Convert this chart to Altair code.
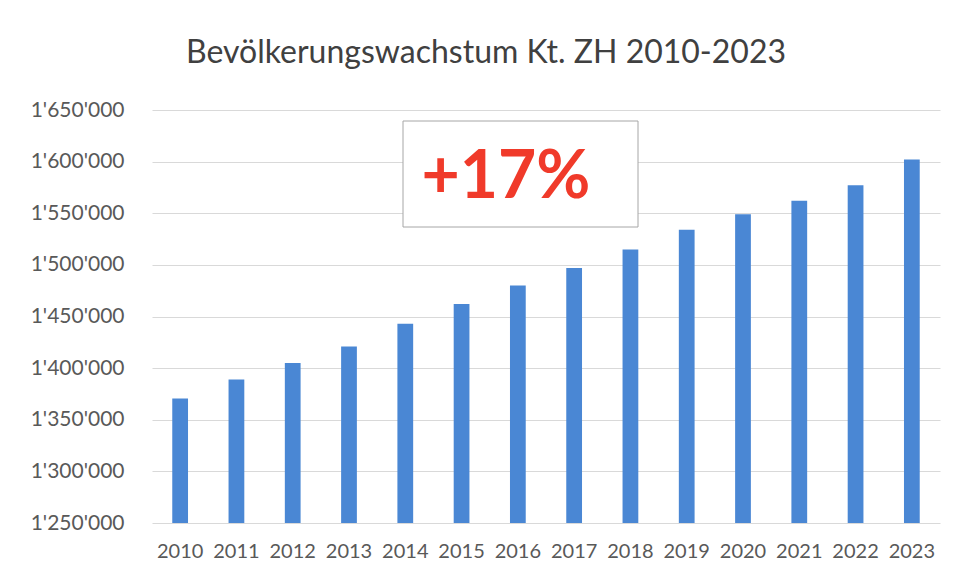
import altair as alt
import pandas as pd

years = ["2010", "2011", "2012", "2013", "2014", "2015", "2016",
         "2017", "2018", "2019", "2020", "2021", "2022", "2023"]
population = [1370500, 1389000, 1405000, 1421000, 1443000, 1462000, 1480000,
              1497000, 1515000, 1534000, 1549000, 1562000, 1577000, 1602000]
y_ticks = [1250000, 1300000, 1350000, 1400000, 1450000, 1500000, 1550000, 1600000, 1650000]
title_text = "Bevölkerungswachstum Kt. ZH 2010-2023"
badge_text = ["+17%"]

df = pd.DataFrame({"Jahr": years, "Einwohner": population})
badge = pd.DataFrame({"t": badge_text})

FONT = "Lato"
GRAY = "#595959"

label_expr = "replace(replace(format(datum.value, ','), ',', \"'\"), ',', \"'\")"

bars = alt.Chart(df).mark_bar(color="#4a87d4").encode(
    x=alt.X("Jahr:N", sort=years,
            scale=alt.Scale(paddingInner=0.72, paddingOuter=0.36),
            axis=alt.Axis(title=None, labelAngle=0, labelFont=FONT, labelFontSize=20,
                          labelColor=GRAY, labelPadding=18, ticks=False, domain=False,
                          grid=False)),
    y=alt.Y("Einwohner:Q",
            scale=alt.Scale(domain=[1250000, 1650000], zero=False, clamp=True),
            axis=alt.Axis(title=None, values=y_ticks, labelExpr=label_expr,
                          labelFont=FONT, labelFontSize=21, labelColor=GRAY,
                          labelPadding=28, ticks=False, domain=False,
                          grid=True, gridColor="#d9d9d9", gridWidth=1)),
)

box = alt.Chart(badge).mark_rect(fill="white", stroke="#a6a6a6", strokeWidth=1).encode(
    x=alt.value(251), x2=alt.value(486), y=alt.value(11), y2=alt.value(117)
)

txt = alt.Chart(badge).mark_text(
    font=FONT, fontSize=66, fontWeight="bold", color="#f03a2a",
    align="center", baseline="middle"
).encode(x=alt.value(354), y=alt.value(68), text="t:N")

chart = alt.layer(bars, box, txt).properties(
    width=788, height=413,
    background="white",
    title=alt.TitleParams(title_text, font=FONT, fontSize=32, fontWeight="normal",
                          color="#404040", anchor="middle", dx=-60, offset=29),
    autosize=alt.AutoSizeParams(type="none"),
    padding={"left": 144, "top": 102, "right": 8, "bottom": 50},
).configure_view(stroke=None)

chart.save("out.html", embed_options={"renderer": "svg", "actions": False})
